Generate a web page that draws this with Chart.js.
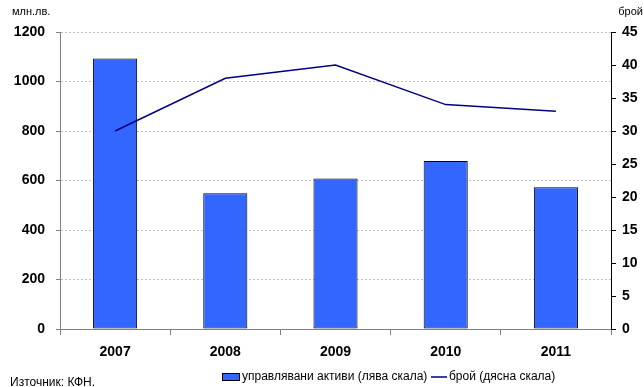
<!DOCTYPE html>
<html>
<head>
<meta charset="utf-8">
<script src="https://cdn.jsdelivr.net/npm/chart.js@4"></script>
<style>
  html, body { margin: 0; padding: 0; background: #fff; }
  #wrap { width: 644px; height: 387px; position: relative; }
</style>
</head>
<body>
<div id="wrap"><canvas id="fundsChart"></canvas></div>
<script>
  const years = ['2007', '2008', '2009', '2010', '2011'];
  const assets = [1093, 548, 608, 679, 573];   // млн.лв., лява скала
  const funds = [30, 38, 40, 34, 33];          // брой, дясна скала
  const leftTicks = [0, 200, 400, 600, 800, 1000, 1200];
  const rightTicks = [0, 5, 10, 15, 20, 25, 30, 35, 40, 45];

  const FONT = '"Liberation Sans", Arial, sans-serif';
  const tickFont = { family: FONT, size: 14, weight: 'bold' };

  // legend, unit labels and source note
  const extras = {
    id: 'extras',
    afterDraw(chart) {
      const c = chart.ctx;
      const bar = chart.data.datasets[0];
      const line = chart.data.datasets[1];
      c.save();
      c.fillStyle = '#000';
      c.font = '11px ' + FONT;
      c.textBaseline = 'middle';
      c.textAlign = 'left';
      c.fillText('млн.лв.', 12, 12);
      c.textAlign = 'right';
      c.fillText('брой', 643, 12);

      c.font = '12px ' + FONT;
      c.textAlign = 'left';
      c.fillText('Източник: КФН.', 10, 383);

      const ly = 377;
      c.fillStyle = bar.backgroundColor;
      c.fillRect(222, ly - 4, 18, 8);
      c.strokeStyle = '#000';
      c.lineWidth = 1;
      c.strokeRect(222.5, ly - 3.5, 17, 7);
      c.fillStyle = '#000';
      c.fillText(bar.label, 242, ly);

      c.strokeStyle = line.borderColor;
      c.lineWidth = 1.5;
      c.beginPath();
      c.moveTo(431, ly);
      c.lineTo(447, ly);
      c.stroke();
      c.fillText(line.label, 449, ly);
      c.restore();
    }
  };

  const ctx = document.getElementById('fundsChart').getContext('2d');
  new Chart(ctx, {
    type: 'bar',
    data: {
      labels: years,
      datasets: [{
        type: 'bar',
        label: 'управлявани активи (лява скала)',
        data: assets,
        yAxisID: 'y',
        backgroundColor: '#3366FF',
        borderColor: '#000000',
        borderWidth: 1,
        borderSkipped: false,
        barPercentage: 0.8,
        categoryPercentage: 0.5,
        order: 2
      }, {
        type: 'line',
        label: 'брой (дясна скала)',
        data: funds,
        yAxisID: 'y1',
        borderColor: '#000080',
        borderWidth: 1.5,
        pointRadius: 0,
        tension: 0,
        order: 1
      }]
    },
    options: {
      responsive: true,
      maintainAspectRatio: false,
      animation: false,
      layout: { padding: { top: 32, left: 0, right: 0, bottom: 28 } },
      plugins: {
        legend: { display: false },
        tooltip: { enabled: false }
      },
      scales: {
        x: {
          offset: true,
          grid: { offset: true, drawOnChartArea: false, tickLength: 6, color: '#808080' },
          border: { color: '#808080', width: 1 },
          ticks: { color: '#000', padding: 9, font: tickFont },
          afterFit(s) { s.height = 30; }
        },
        y: {
          position: 'left',
          min: 0,
          max: 1200,
          afterBuildTicks(s) { s.ticks = leftTicks.map(v => ({ value: v })); },
          grid: { color: '#c0c0c0', tickColor: '#808080', tickLength: 4 },
          border: { color: '#808080', width: 1, dash: [2, 2] },
          ticks: { color: '#000', padding: 11, font: tickFont, callback: v => String(v) },
          afterFit(s) { s.width = 60; }
        },
        y1: {
          position: 'right',
          min: 0,
          max: 45,
          afterBuildTicks(s) { s.ticks = rightTicks.map(v => ({ value: v })); },
          grid: { drawOnChartArea: false, tickColor: '#000', tickLength: 5 },
          border: { color: '#000', width: 1 },
          ticks: { color: '#000', padding: 6, font: tickFont, callback: v => String(v) },
          afterFit(s) { s.width = 33; }
        }
      }
    },
    plugins: [extras]
  });
</script>
</body>
</html>
